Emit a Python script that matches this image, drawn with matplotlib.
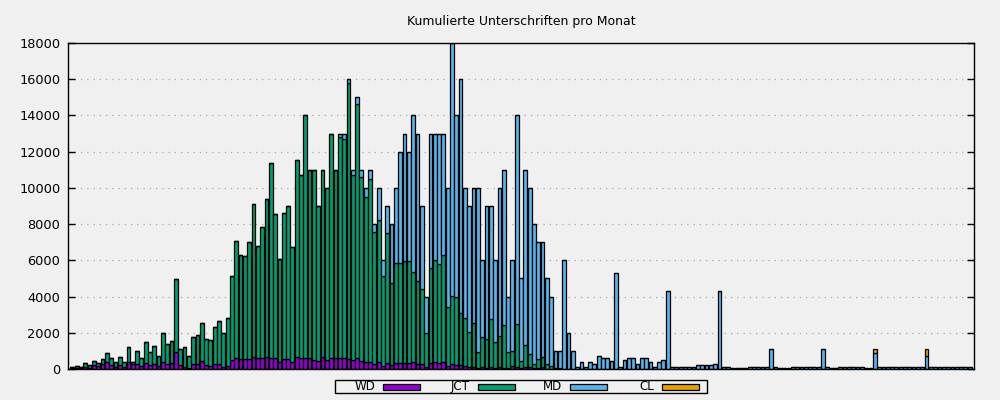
import matplotlib.pyplot as plt
import numpy as np
from matplotlib.patches import Rectangle

# Monthly signatures per campaign (stacked)
wd = [50, 60, 50, 90, 50, 200, 170, 260, 400, 220, 130, 220, 90, 400, 250, 280, 170, 350, 220, 280,
      180, 370, 260, 310, 950, 220, 130, 70, 280, 280, 440, 220, 180, 280,
      280, 130, 180, 500, 590, 550, 550, 530, 680, 590, 590, 640, 590, 600, 390, 550, 550, 400, 680, 620,
      620, 590, 500, 440, 680, 500, 620, 590, 620, 620, 550, 500, 590, 440,
      400, 370, 280, 370, 170, 310, 220, 310, 310, 310, 350, 370, 280, 260, 90, 310, 370, 310, 370, 170,
      260, 220, 220, 170, 90, 130, 60, 90, 60, 130, 70, 90, 70, 70,
      170, 130, 60, 90, 90, 30, 30, 90, 20, 20, 0, 0,
      0, 0, 0, 0, 0, 0, 0, 0, 0, 0, 0, 0, 0, 0, 0, 0, 0, 0, 0, 0, 0, 0, 0, 0, 0,
      0, 0, 0, 0, 0, 0, 0, 0, 0, 0, 0, 0, 0, 0, 0, 0, 0, 0, 0, 0, 0, 0, 0, 0, 0,
      0, 0, 0, 0, 0, 0, 0, 0, 0, 0, 0, 0, 0, 0, 0, 0, 0, 0, 0, 0, 0, 0, 0, 0, 0,
      0, 0, 0, 0, 0, 0, 0, 0, 0, 0, 0, 0, 0, 0, 0, 0, 0, 0, 0, 0]

jct = [60, 120, 80, 220, 150, 260, 180, 310, 500, 400, 280, 460, 310, 830, 155, 730, 420, 1160, 735, 1010,
       550, 1630, 1120, 1230, 4000, 900, 1100, 660, 1510, 1620, 2120, 1455, 1440, 2060,
       2370, 1870, 2650, 4650, 6490, 5740, 5690, 6460, 8410, 6200, 7270, 8760, 10800, 7980, 5700, 8080,
       8450, 6350, 10870, 10110, 13380, 10410, 10500, 8560, 10320, 9500, 12380, 10410,
       12200, 12060, 15250, 10230, 14020, 10140,
       9080, 10100, 7300, 7855, 4965, 7215, 4510, 5520, 5520, 5650, 5610, 4965, 4580, 4155, 1880, 5245,
       5645, 5465, 5925, 3235, 3770, 3735, 2855, 2630, 1950, 2430, 860, 1660, 1580, 2610, 1440, 1730,
       2360, 850,
       840, 2350, 400, 1230, 740, 250, 500, 550, 260, 160, 55, 30,
       0, 0, 0, 0, 0, 0, 0, 0, 0, 0, 0, 0, 0, 0, 0, 0, 0, 0, 0, 0, 0, 0, 0, 0, 0,
       0, 0, 0, 0, 0, 0, 0, 0, 0, 0, 0, 0, 0, 0, 0, 0, 0, 0, 0, 0, 0, 0, 0, 0, 0,
       0, 0, 0, 0, 0, 0, 0, 0, 0, 0, 0, 0, 0, 0, 0, 0, 0, 0, 0, 0, 0, 0, 0, 0, 0,
       0, 0, 0, 0, 0, 0, 0, 0, 0, 0, 0, 0, 0, 0, 0, 0, 0, 0, 0, 0]

md = [0, 0, 0, 0, 0, 0, 0, 0, 0, 0, 0, 0, 0, 0, 0, 0, 0, 0, 0, 0,
      0, 0, 0, 0, 0, 0, 0, 0, 0, 0, 0, 0, 0, 0,
      0, 0, 0, 0, 0, 0, 0, 0, 0, 0, 0, 0, 0, 0, 0, 0, 0, 0, 0, 0,
      0, 0, 0, 0, 0, 0, 0, 0,
      180, 320, 200, 270, 390, 420,
      525, 530, 420, 1775, 865, 1475, 3270, 4165, 6165, 7040, 6040, 8665, 8140, 4585, 2030, 7445,
      6985, 7225, 6705, 6595, 13970, 10045, 12925, 7200, 6960, 7440, 9080, 4250, 7360, 6260, 4490, 8180,
      8570, 3080,
      4990, 11520, 4540, 9680, 9170, 7720, 6470, 6360, 4720, 3820, 945, 970,
      6000, 2000, 1000, 90, 400, 90, 390, 280, 740, 590, 590, 460, 5300, 90, 500, 590, 590, 280, 590, 590,
      370, 90, 370, 515, 4320,
      130, 130, 130, 130, 130, 130, 220, 220, 220, 220, 300, 4320, 130, 130, 60, 60, 60, 60, 130, 130,
      130, 130, 130, 1100, 130, 60, 60, 60, 130, 130, 130, 130, 130, 130, 130, 1080, 120, 70, 70, 120,
      120, 120, 120, 120, 120, 80, 80, 870, 90, 90, 90, 90, 120, 120, 120, 120, 120, 120, 120, 740,
      90, 90, 90, 90, 120, 120, 120, 120, 120, 120]

cl = [0] * 186 + [240] + [0] * 11 + [370] + [0] * 10

names = ['WD', 'JCT', 'MD', 'CL']
colors = ['#9400d3', '#009e73', '#56b4e9', '#e69f00']
bg = '#f0f0f0'

fig = plt.figure(figsize=(10, 4), dpi=100, facecolor=bg)
ax = fig.add_axes([0.068, 0.0775, 0.906, 0.815], facecolor=bg)

x = np.arange(len(wd))
bottom = np.zeros(len(wd))
for name, vals, c in zip(names, [wd, jct, md, cl], colors):
    vals = np.array(vals, dtype=float)
    ax.bar(x, vals, 0.88, bottom=bottom, color=c, edgecolor='black', linewidth=0.9, zorder=3)
    bottom += vals

ax.set_xlim(-1, len(wd))
ax.set_ylim(0, 18000)
ax.set_yticks(range(0, 18001, 2000))
ax.set_xticks([])
ax.tick_params(axis='y', direction='in', right=True, length=5, width=1, labelsize=9.3, pad=5.5)
ax.yaxis.grid(True, linestyle=(0, (1, 4)), color='#a8a8a8', linewidth=0.9)
ax.set_axisbelow(True)
for s in ax.spines.values():
    s.set_linewidth(1)
    s.set_zorder(5)

fig.text(0.521, 1 - 22 / 400, 'Kumulierte Unterschriften pro Monat', ha='center', va='center', fontsize=9)

# legend box below the plot, gnuplot style (label then swatch)
fig.patches.append(Rectangle((0.335, 0.0175), 0.372, 0.0325, transform=fig.transFigure,
                             fill=False, edgecolor='black', linewidth=1))
text_right = [375, 470, 562, 654]
for name, c, tr in zip(names, colors, text_right):
    fig.text(tr / 1000, 1 - 386.5 / 400, name, ha='right', va='center', fontsize=8.6)
    fig.patches.append(Rectangle(((tr + 8) / 1000, 1 - 390 / 400), 0.037, 6.5 / 400,
                                 transform=fig.transFigure, facecolor=c, edgecolor='black', linewidth=0.9))

fig.savefig('out.png', dpi=100, facecolor=bg)
